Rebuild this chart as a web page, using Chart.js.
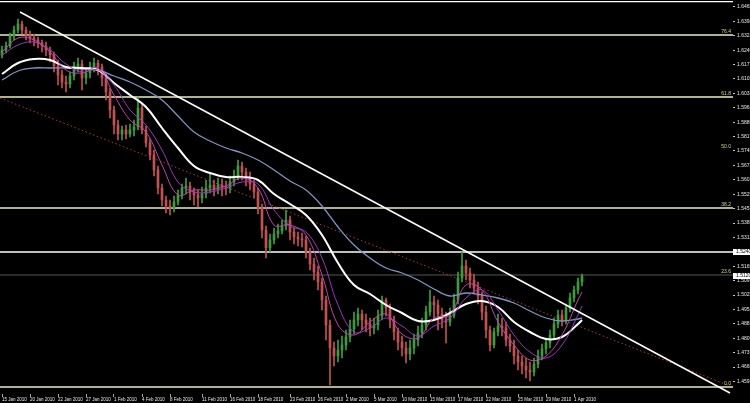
<!DOCTYPE html>
<html>
<head>
<meta charset="utf-8">
<script src="https://cdn.jsdelivr.net/npm/chart.js@4.4.1/dist/chart.umd.min.js"></script>
<style>
  html, body { margin: 0; padding: 0; background: #000; }
  canvas { display: block; }
</style>
</head>
<body>
<canvas id="myChart" width="750" height="403"></canvas>
<script>
// Candle prices, one per bar (index 0..145)
var opens = [1.6225,1.6250,1.6270,1.6320,1.6350,1.6380,1.6350,1.6325,1.6310,1.6300,
  1.6285,1.6270,1.6250,1.6225,1.6170,1.6125,1.6090,1.6080,1.6120,1.6170,
  1.6180,1.6110,1.6135,1.6165,1.6185,1.6165,1.6110,1.6040,1.5950,1.5875,
  1.5830,1.5850,1.5830,1.5850,1.5865,1.5960,1.5850,1.5785,1.5725,1.5650,
  1.5560,1.5500,1.5470,1.5460,1.5490,1.5525,1.5560,1.5570,1.5540,1.5525,
  1.5510,1.5530,1.5560,1.5575,1.5555,1.5575,1.5565,1.5560,1.5590,1.5620,
  1.5670,1.5640,1.5610,1.5580,1.5540,1.5460,1.5350,1.5260,1.5300,1.5330,
  1.5345,1.5370,1.5400,1.5340,1.5315,1.5305,1.5300,1.5240,1.5180,1.5140,
  1.5090,1.5000,1.4875,1.4760,1.4720,1.4750,1.4775,1.4815,1.4855,1.4900,
  1.4930,1.4900,1.4880,1.4860,1.4875,1.4920,1.5000,1.4960,1.4900,1.4840,
  1.4790,1.4760,1.4730,1.4760,1.4800,1.4835,1.4875,1.4940,1.4990,1.4975,
  1.4930,1.4900,1.4890,1.4925,1.5000,1.5110,1.5170,1.5135,1.5100,1.5060,
  1.5020,1.4940,1.4850,1.4775,1.4840,1.4870,1.4860,1.4800,1.4770,1.4720,
  1.4690,1.4670,1.4650,1.4640,1.4680,1.4720,1.4755,1.4785,1.4825,1.4880,
  1.4925,1.4900,1.4960,1.5010,1.5050,1.5090];
var highs = [1.6270,1.6290,1.6335,1.6370,1.6405,1.6395,1.6365,1.6345,1.6330,1.6315,
  1.6300,1.6290,1.6265,1.6240,1.6200,1.6150,1.6120,1.6140,1.6190,1.6210,
  1.6200,1.6160,1.6190,1.6210,1.6200,1.6180,1.6130,1.6060,1.5970,1.5900,
  1.5870,1.5875,1.5880,1.5900,1.6015,1.5980,1.5870,1.5805,1.5750,1.5670,
  1.5580,1.5520,1.5500,1.5520,1.5550,1.5580,1.5610,1.5590,1.5560,1.5550,
  1.5565,1.5600,1.5630,1.5600,1.5610,1.5605,1.5595,1.5620,1.5650,1.5700,
  1.5690,1.5660,1.5640,1.5600,1.5560,1.5480,1.5370,1.5330,1.5360,1.5380,
  1.5400,1.5450,1.5420,1.5360,1.5340,1.5335,1.5320,1.5260,1.5210,1.5170,
  1.5110,1.5020,1.4900,1.4790,1.4800,1.4820,1.4850,1.4900,1.4940,1.4960,
  1.4950,1.4930,1.4910,1.4910,1.4950,1.5020,1.5010,1.4980,1.4920,1.4860,
  1.4820,1.4790,1.4800,1.4830,1.4870,1.4910,1.4970,1.5050,1.5020,1.5000,
  1.4960,1.4940,1.4960,1.5030,1.5140,1.5240,1.5200,1.5160,1.5130,1.5090,
  1.5040,1.4970,1.4870,1.4860,1.4930,1.4910,1.4890,1.4830,1.4800,1.4750,
  1.4720,1.4710,1.4690,1.4710,1.4750,1.4780,1.4810,1.4850,1.4910,1.4950,
  1.4950,1.4980,1.5035,1.5070,1.5110,1.5130];
var lows = [1.6210,1.6235,1.6260,1.6300,1.6335,1.6330,1.6300,1.6285,1.6270,1.6260,
  1.6240,1.6220,1.6190,1.6140,1.6075,1.6060,1.6040,1.6060,1.6100,1.6140,
  1.6050,1.6080,1.6110,1.6140,1.6125,1.6070,1.6000,1.5910,1.5830,1.5800,
  1.5800,1.5805,1.5815,1.5820,1.5850,1.5830,1.5765,1.5700,1.5620,1.5530,
  1.5470,1.5435,1.5425,1.5440,1.5475,1.5505,1.5530,1.5500,1.5475,1.5465,
  1.5485,1.5510,1.5535,1.5520,1.5530,1.5520,1.5525,1.5535,1.5570,1.5600,
  1.5600,1.5570,1.5550,1.5510,1.5430,1.5310,1.5210,1.5240,1.5280,1.5310,
  1.5330,1.5350,1.5300,1.5280,1.5270,1.5265,1.5210,1.5150,1.5100,1.5050,
  1.4950,1.4800,1.4575,1.4670,1.4690,1.4710,1.4750,1.4790,1.4830,1.4870,
  1.4850,1.4840,1.4820,1.4830,1.4850,1.4900,1.4920,1.4860,1.4800,1.4750,
  1.4720,1.4685,1.4700,1.4730,1.4770,1.4810,1.4850,1.4920,1.4900,1.4850,
  1.4860,1.4785,1.4870,1.4910,1.4980,1.5090,1.5100,1.5060,1.5030,1.4980,
  1.4900,1.4810,1.4745,1.4760,1.4820,1.4820,1.4770,1.4740,1.4680,1.4650,
  1.4630,1.4610,1.4595,1.4620,1.4660,1.4700,1.4730,1.4760,1.4800,1.4860,
  1.4870,1.4880,1.4940,1.4990,1.5030,1.5070];
var closes = [1.6250,1.6270,1.6320,1.6350,1.6380,1.6350,1.6325,1.6310,1.6300,1.6285,
  1.6270,1.6250,1.6225,1.6170,1.6125,1.6090,1.6080,1.6120,1.6170,1.6180,
  1.6110,1.6135,1.6165,1.6185,1.6165,1.6110,1.6040,1.5950,1.5875,1.5830,
  1.5850,1.5830,1.5850,1.5865,1.5960,1.5850,1.5785,1.5725,1.5650,1.5560,
  1.5500,1.5470,1.5460,1.5490,1.5525,1.5560,1.5570,1.5540,1.5525,1.5510,
  1.5530,1.5560,1.5575,1.5555,1.5575,1.5565,1.5560,1.5590,1.5620,1.5670,
  1.5640,1.5610,1.5580,1.5540,1.5460,1.5350,1.5260,1.5300,1.5330,1.5345,
  1.5370,1.5400,1.5340,1.5315,1.5305,1.5300,1.5240,1.5180,1.5140,1.5090,
  1.5000,1.4875,1.4760,1.4720,1.4750,1.4775,1.4815,1.4855,1.4900,1.4930,
  1.4900,1.4880,1.4860,1.4875,1.4920,1.5000,1.4960,1.4900,1.4840,1.4790,
  1.4760,1.4730,1.4760,1.4800,1.4835,1.4875,1.4940,1.4990,1.4975,1.4930,
  1.4900,1.4890,1.4925,1.5000,1.5110,1.5170,1.5135,1.5100,1.5060,1.5020,
  1.4940,1.4850,1.4775,1.4840,1.4870,1.4860,1.4800,1.4770,1.4720,1.4690,
  1.4670,1.4650,1.4640,1.4680,1.4720,1.4755,1.4785,1.4825,1.4880,1.4925,
  1.4900,1.4960,1.5010,1.5050,1.5090,1.5120];

// Moving averages, read every 4th bar
var maIdx = [0,4,8,12,16,20,24,28,32,36,40,44,48,52,56,60,64,68,72,76,80,84,88,92,96,100,104,108,112,116,120,124,128,132,136,140,144,145];
var whiteMA = [1.6130,1.6185,1.6205,1.6200,1.6165,1.6160,1.6150,1.6085,1.6025,1.5965,1.5860,1.5760,1.5670,1.5635,1.5615,1.5615,1.5600,1.5530,1.5480,1.5425,1.5325,1.5185,1.5075,1.5030,1.4975,1.4935,1.4895,1.4900,1.4935,1.4980,1.4995,1.4965,1.4890,1.4840,1.4805,1.4815,1.4880,1.4900];
var blueMA = [1.6100,1.6145,1.6160,1.6160,1.6160,1.6155,1.6150,1.6120,1.6090,1.6050,1.6000,1.5920,1.5840,1.5795,1.5760,1.5735,1.5700,1.5650,1.5595,1.5550,1.5470,1.5365,1.5275,1.5210,1.5160,1.5135,1.5100,1.5055,1.5020,1.5035,1.5025,1.5010,1.4985,1.4945,1.4910,1.4895,1.4905,1.4910];
var fastMA = [1.6240,1.6310,1.6300,1.6240,1.6150,1.6135,1.6160,1.6025,1.5900,1.5840,1.5675,1.5525,1.5550,1.5550,1.5570,1.5610,1.5560,1.5375,1.5375,1.5325,1.5125,1.4875,1.4825,1.4890,1.4930,1.4830,1.4810,1.4910,1.4925,1.5075,1.5050,1.4890,1.4775,1.4700,1.4720,1.4825,1.5000,1.5040];
var slowMA = [1.6225,1.6275,1.6290,1.6250,1.6180,1.6140,1.6150,1.6075,1.5950,1.5875,1.5750,1.5590,1.5540,1.5540,1.5560,1.5590,1.5580,1.5450,1.5370,1.5340,1.5210,1.4975,1.4840,1.4860,1.4910,1.4870,1.4820,1.4870,1.4910,1.5010,1.5050,1.4950,1.4825,1.4740,1.4710,1.4775,1.4925,1.4970];

// Drawn objects
var trendIdx = [4.5, 182];
var trendPrices = [1.6440, 1.4535];
var fibLineIdx = [-0.5, 182];
var fibLinePrices = [1.6010, 1.4570];
var fibLevels = [1.6325, 1.6015, 1.5750, 1.5460, 1.5125, 1.4565];
var fibNames = ['76.4', '61.8', '50.0', '38.2', '23.6', '0.0'];
var whiteLevels = [1.6492, 1.5240];
var boxPrices = [1.5240, 1.5120];

// Axis labels
var priceTicks = [1.6465,1.6393,1.6321,1.6249,1.6177,1.6105,1.6033,1.5961,1.5889,1.5817,1.5745,1.5673,1.5601,1.5529,1.5457,1.5385,1.5313,1.5241,1.5169,1.5097,1.5025,1.4953,1.4881,1.4809,1.4737,1.4665,1.4593];
var dateTickIdx = [0,7,14,21,28,35,42,50,57,64,72,79,86,93,100,107,114,121,129,136,143];
var dateLabels = ['15 Jan 2010','20 Jan 2010','22 Jan 2010','27 Jan 2010','1 Feb 2010','4 Feb 2010','8 Feb 2010','11 Feb 2010','16 Feb 2010','18 Feb 2010','23 Feb 2010','26 Feb 2010','2 Mar 2010','5 Mar 2010','10 Mar 2010','15 Mar 2010','17 Mar 2010','22 Mar 2010','25 Mar 2010','29 Mar 2010','1 Apr 2010'];

var BULL = '#3e9c3e';
var BEAR = '#c05252';
var X_MIN = -0.5, X_MAX = 182.75;

function candleColor(ctx) {
    var i = ctx.dataIndex;
    return closes[i] >= opens[i] ? BULL : BEAR;
}

function pts(xs, ys) {
    return xs.map(function(x, k) { return {x: x, y: ys[k]}; });
}

function hLine(price, color, width, order) {
    return {
        type: 'line', data: [{x: X_MIN, y: price}, {x: X_MAX, y: price}],
        borderColor: color, borderWidth: width, pointRadius: 0, order: order
    };
}

var datasets = [];

// Horizontal levels
whiteLevels.forEach(function(p) { datasets.push(hLine(p, '#ffffff', 1.3, 20)); });
fibLevels.forEach(function(p, k) {
    var c = '#ecebc2';
    if (fibNames[k] == '50.0') c = 'rgba(0,0,0,0)';
    if (fibNames[k] == '23.6') c = '#3a3a34';
    datasets.push(hLine(p, c, 1.3, 20));
});

// Fibonacci anchor line (dotted)
datasets.push({
    type: 'line', data: pts(fibLineIdx, fibLinePrices),
    borderColor: '#b03a26', borderWidth: 1, borderDash: [1.5, 2.5], pointRadius: 0, order: 19
});

// Candles: wicks then bodies
datasets.push({
    type: 'bar', data: highs.map(function(h, i) { return {x: i, y: [lows[i], h]}; }),
    backgroundColor: candleColor, barThickness: 1, grouped: false, order: 15
});
datasets.push({
    type: 'bar', data: opens.map(function(o, i) { return {x: i, y: [o, closes[i]]}; }),
    backgroundColor: candleColor, barThickness: 2, grouped: false, minBarLength: 1, order: 14
});

// Moving averages
function maLine(values, color, width, order) {
    return {
        type: 'line', data: pts(maIdx, values), borderColor: color, borderWidth: width,
        pointRadius: 0, tension: 0.4, order: order
    };
}
datasets.push(maLine(blueMA, '#8193c3', 1.3, 10));
datasets.push(maLine(whiteMA, '#ffffff', 2, 9));
datasets.push(maLine(slowMA, '#9838bc', 1, 8));
datasets.push(maLine(fastMA, '#c440ae', 1, 7));

// Trend line
datasets.push({
    type: 'line', data: pts(trendIdx, trendPrices),
    borderColor: '#ffffff', borderWidth: 1.5, pointRadius: 0, order: 1
});

// Level names and price boxes on the right
var overlay = {
    id: 'overlay',
    afterDatasetsDraw: function(chart) {
        var ctx = chart.ctx, y = chart.scales.y, area = chart.chartArea;
        ctx.save();
        ctx.font = '5px "Liberation Sans"';
        ctx.fillStyle = '#d8d684';
        ctx.textAlign = 'right';
        ctx.textBaseline = 'bottom';
        fibLevels.forEach(function(p, k) {
            ctx.fillText(fibNames[k], area.right - 2, y.getPixelForValue(p) - 1);
        });
        boxPrices.forEach(function(p) {
            var py = y.getPixelForValue(p);
            ctx.fillStyle = '#ffffff';
            ctx.fillRect(area.right, py - 3, 17, 6);
            ctx.fillStyle = '#000000';
            ctx.textAlign = 'left';
            ctx.textBaseline = 'middle';
            ctx.fillText(p.toFixed(4), area.right + 3, py);
        });
        ctx.restore();
    }
};

var chart = new Chart(myChart.getContext('2d'), {
    type: 'bar',
    data: { datasets: datasets },
    plugins: [overlay],
    options: {
        responsive: false,
        animation: false,
        devicePixelRatio: 1,
        layout: { padding: 0 },
        plugins: { legend: { display: false }, tooltip: { enabled: false } },
        scales: {
            x: {
                type: 'linear', min: X_MIN, max: X_MAX, offset: false,
                grid: { drawOnChartArea: false, tickLength: 3, color: '#a8a8a8', offset: false },
                border: { display: false },
                ticks: {
                    autoSkip: false, maxRotation: 0, align: 'start', padding: 0,
                    color: '#e6e6e6', font: { size: 4.5, family: 'Liberation Sans' },
                    callback: function(v, i) { return dateLabels[i]; }
                },
                afterBuildTicks: function(s) { s.ticks = dateTickIdx.map(function(v) { return {value: v}; }); },
                afterFit: function(s) { s.height = 9; s.paddingLeft = 0; s.paddingRight = 0; }
            },
            y: {
                position: 'right', min: 1.4530, max: 1.6500,
                grid: { drawOnChartArea: false, tickLength: 2, color: '#c8c8c8' },
                border: { display: false },
                ticks: {
                    padding: 2, color: '#e6e6e6', font: { size: 5, family: 'Liberation Sans' },
                    callback: function(v) { return v.toFixed(4); }
                },
                afterBuildTicks: function(s) { s.ticks = priceTicks.map(function(v) { return {value: v}; }); },
                afterFit: function(s) { s.width = 17; s.paddingTop = 0; s.paddingBottom = 0; }
            }
        }
    }
});
</script>
</body>
</html>
